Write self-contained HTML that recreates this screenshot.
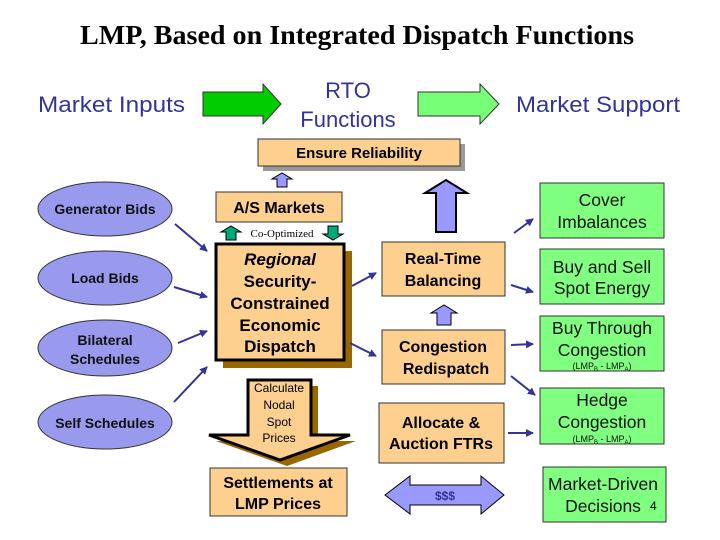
<!DOCTYPE html>
<html><head><meta charset="utf-8"><style>
html,body{margin:0;padding:0;background:#fff;}
svg{display:block;}
.s{font-family:"Liberation Sans",Arial,sans-serif;}
.b{font-weight:bold;}
</style></head><body>
<svg width="720" height="540" viewBox="0 0 720 540" xmlns="http://www.w3.org/2000/svg">
<defs>
<marker id="ah" markerWidth="8" markerHeight="8" refX="7" refY="4" orient="auto" markerUnits="userSpaceOnUse">
<path d="M0,0 L8,4 L0,8 Z" fill="#333399"/></marker>
</defs>
<text x="357" y="44" text-anchor="middle" font-family="Liberation Serif,serif" font-weight="bold" font-size="27" textLength="554" lengthAdjust="spacingAndGlyphs">LMP, Based on Integrated Dispatch Functions</text>

<g class="s" fill="#333399" font-size="22">
<text x="38" y="112" textLength="147" lengthAdjust="spacingAndGlyphs">Market Inputs</text>
<text x="348" y="98" text-anchor="middle">RTO</text>
<text x="348" y="127" text-anchor="middle">Functions</text>
<text x="516" y="112" textLength="164" lengthAdjust="spacingAndGlyphs">Market Support</text>
</g>
<path d="M203,92 H263 V84 L281,104 L263,124 V116 H203 Z" fill="#00cc00" stroke="#333" stroke-width="1"/>
<path d="M418,92 H480 V84 L499,104 L480,124 V116 H418 Z" fill="#77ff77" stroke="#333" stroke-width="1"/>

<rect x="263" y="144" width="202" height="27" fill="#999"/>
<rect x="258" y="139" width="202" height="27" fill="#fdd08f" stroke="#333"/>
<text class="s b" x="359" y="158" text-anchor="middle" font-size="15">Ensure Reliability</text>
<path d="M277,187 V179 H272 L282,173 L292,179 H287 V187 Z" fill="#9999ff" stroke="#000"/>

<rect x="216" y="192" width="126" height="30" fill="#fdd08f" stroke="#333"/>
<text class="s b" x="279" y="213" text-anchor="middle" font-size="16">A/S Markets</text>
<path d="M226,240 V232 H221 L231,226 L241,232 H236 V240 Z" fill="#00aa77" stroke="#000"/>
<text x="282" y="237" text-anchor="middle" font-family="Liberation Serif,serif" font-size="11">Co-Optimized</text>
<path d="M328,226 V234 H323 L333,240 L343,234 H338 V226 Z" fill="#00aa77" stroke="#000"/>

<rect x="223" y="251" width="129" height="117" fill="#996600"/>
<rect x="216" y="244" width="128" height="116" fill="#fdd08f" stroke="#000" stroke-width="3"/>
<g class="s b" font-size="17" text-anchor="middle">
<text x="280" y="265" font-style="italic">Regional</text>
<text x="280" y="287">Security-</text>
<text x="280" y="309">Constrained</text>
<text x="280" y="331">Economic</text>
<text x="280" y="352">Dispatch</text>
</g>

<path d="M255,386 H318 V441 H356 L287,466 L216,441 H255 Z" fill="#996600"/>
<path d="M248,380 H311 V435 H350 L280,460 L209,435 H248 Z" fill="#fdd08f" stroke="#000" stroke-width="3"/>
<g class="s" font-size="12" text-anchor="middle">
<text x="279" y="392">Calculate</text>
<text x="279" y="409">Nodal</text>
<text x="279" y="426">Spot</text>
<text x="279" y="442">Prices</text>
</g>

<rect x="210" y="468" width="137" height="48" fill="#fdd08f" stroke="#333"/>
<text class="s b" x="278" y="488" text-anchor="middle" font-size="16">Settlements at</text>
<text class="s b" x="278" y="509" text-anchor="middle" font-size="16">LMP Prices</text>

<g fill="#9999ee" stroke="#333">
<ellipse cx="105" cy="209" rx="67" ry="27"/>
<ellipse cx="105" cy="278" rx="67" ry="27"/>
<ellipse cx="105" cy="348" rx="67" ry="28"/>
<ellipse cx="105" cy="422" rx="67" ry="27"/>
</g>
<g class="s b" font-size="14" text-anchor="middle" fill="#111">
<text x="105" y="214">Generator Bids</text>
<text x="105" y="283">Load Bids</text>
<text x="105" y="345">Bilateral</text>
<text x="105" y="364">Schedules</text>
<text x="105" y="428">Self Schedules</text>
</g>
<g stroke="#333399" stroke-width="2" marker-end="url(#ah)">
<line x1="175" y1="224" x2="207" y2="251"/>
<line x1="174" y1="287" x2="207" y2="297"/>
<line x1="178" y1="343" x2="207" y2="331"/>
<line x1="174" y1="402" x2="207" y2="367"/>
<line x1="352" y1="286" x2="376" y2="273"/>
<line x1="350" y1="343" x2="376" y2="356"/>
<line x1="514" y1="233" x2="533" y2="219"/>
<line x1="511" y1="285" x2="533" y2="292"/>
<line x1="511" y1="345" x2="533" y2="344"/>
<line x1="511" y1="376" x2="535" y2="395"/>
<line x1="508" y1="433" x2="533" y2="433"/>
</g>

<path d="M436,232 V193 H425 L446,180 L467,193 H456 V232 Z" fill="#9999ff" stroke="#000" stroke-width="2"/>
<rect x="382" y="242" width="123" height="54" fill="#fdd08f" stroke="#333"/>
<text class="s b" x="443" y="264" text-anchor="middle" font-size="16">Real-Time</text>
<text class="s b" x="443" y="286" text-anchor="middle" font-size="16">Balancing</text>
<path d="M437,325 V313 H431 L444,305 L457,313 H451 V325 Z" fill="#9999ff" stroke="#000"/>
<rect x="382" y="330" width="123" height="54" fill="#fdd08f" stroke="#333"/>
<text class="s b" x="443" y="352" text-anchor="middle" font-size="16">Congestion</text>
<text class="s b" x="446" y="374" text-anchor="middle" font-size="16">Redispatch</text>
<rect x="379" y="403" width="125" height="60" fill="#fdd08f" stroke="#333"/>
<text class="s b" x="441" y="428" text-anchor="middle" font-size="16">Allocate &amp;</text>
<text class="s b" x="441" y="449" text-anchor="middle" font-size="16">Auction FTRs</text>
<path d="M385,495 L410,476 V485 H481 V476 L504,495 L481,514 V505 H410 V514 Z" fill="#9999ff" stroke="#000"/>
<text class="s b" x="445" y="500" text-anchor="middle" font-size="12" fill="#333399">$$$</text>

<g fill="#80ff80" stroke="#333">
<rect x="540" y="183" width="124" height="55"/>
<rect x="540" y="249" width="124" height="55"/>
<rect x="540" y="316" width="124" height="55"/>
<rect x="540" y="388" width="124" height="56"/>
<rect x="543" y="467" width="123" height="55"/>
</g>
<g class="s" font-size="17.5" text-anchor="middle" fill="#111">
<text x="602" y="206">Cover</text>
<text x="602" y="228">Imbalances</text>
<text x="602" y="273">Buy and Sell</text>
<text x="602" y="294">Spot Energy</text>
<text x="602" y="334">Buy Through</text>
<text x="602" y="356">Congestion</text>
<text x="602" y="406">Hedge</text>
<text x="602" y="428">Congestion</text>
<text x="603" y="490">Market-Driven</text>
<text x="603" y="512">Decisions</text>
</g>
<text class="s" x="650" y="510" font-size="12">4</text>
<g class="s" font-size="9" text-anchor="middle" fill="#111">
<text x="602" y="369">(LMP<tspan font-size="6" dy="2">B</tspan><tspan dy="-2"> - LMP</tspan><tspan font-size="6" dy="2">A</tspan><tspan dy="-2">)</tspan></text>
<text x="602" y="442">(LMP<tspan font-size="6" dy="2">B</tspan><tspan dy="-2"> - LMP</tspan><tspan font-size="6" dy="2">A</tspan><tspan dy="-2">)</tspan></text>
</g>
</svg>
</body></html>
